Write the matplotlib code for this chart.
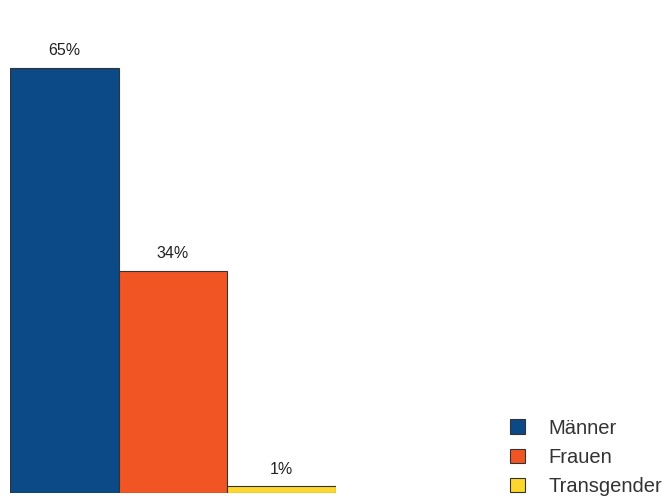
import matplotlib.pyplot as plt
from matplotlib.patches import Patch

plt.rcParams['font.family'] = ['Liberation Sans', 'DejaVu Sans']

categories = ['Männer', 'Frauen', 'Transgender']
values = [65, 34, 1]
colors = ['#0b4a86', '#f15524', '#fdd62e']

fig = plt.figure(figsize=(6.65, 4.99), dpi=100)
# axes from x=10px to x=336px, bottom at 6px
ax = fig.add_axes([10 / 665, 6 / 499, 326 / 665, 463 / 499])

x = range(len(values))
bars = ax.bar(x, values, width=1.0, color=colors, edgecolor='#333333', linewidth=0.8)
for xi, v in zip(x, values):
    ax.text(xi, v + 1.5, f'{v}%', ha='center', va='bottom', fontsize=11.5, color='#222222')

ax.set_xlim(-0.5, 2.5)
ax.set_ylim(0, 65 * 463 / 425)
ax.axis('off')

handles = [Patch(facecolor=c, edgecolor='#333333', linewidth=0.8) for c in colors]
fig.legend(handles, categories, loc='lower left', bbox_to_anchor=(510 / 665, 3 / 499),
           frameon=False, fontsize=14.5, handlelength=0.75, handleheight=0.75,
           handletextpad=1.15, labelspacing=0.5, borderpad=0, borderaxespad=0,
           labelcolor='#333333')

fig.savefig('out.png', dpi=100)
